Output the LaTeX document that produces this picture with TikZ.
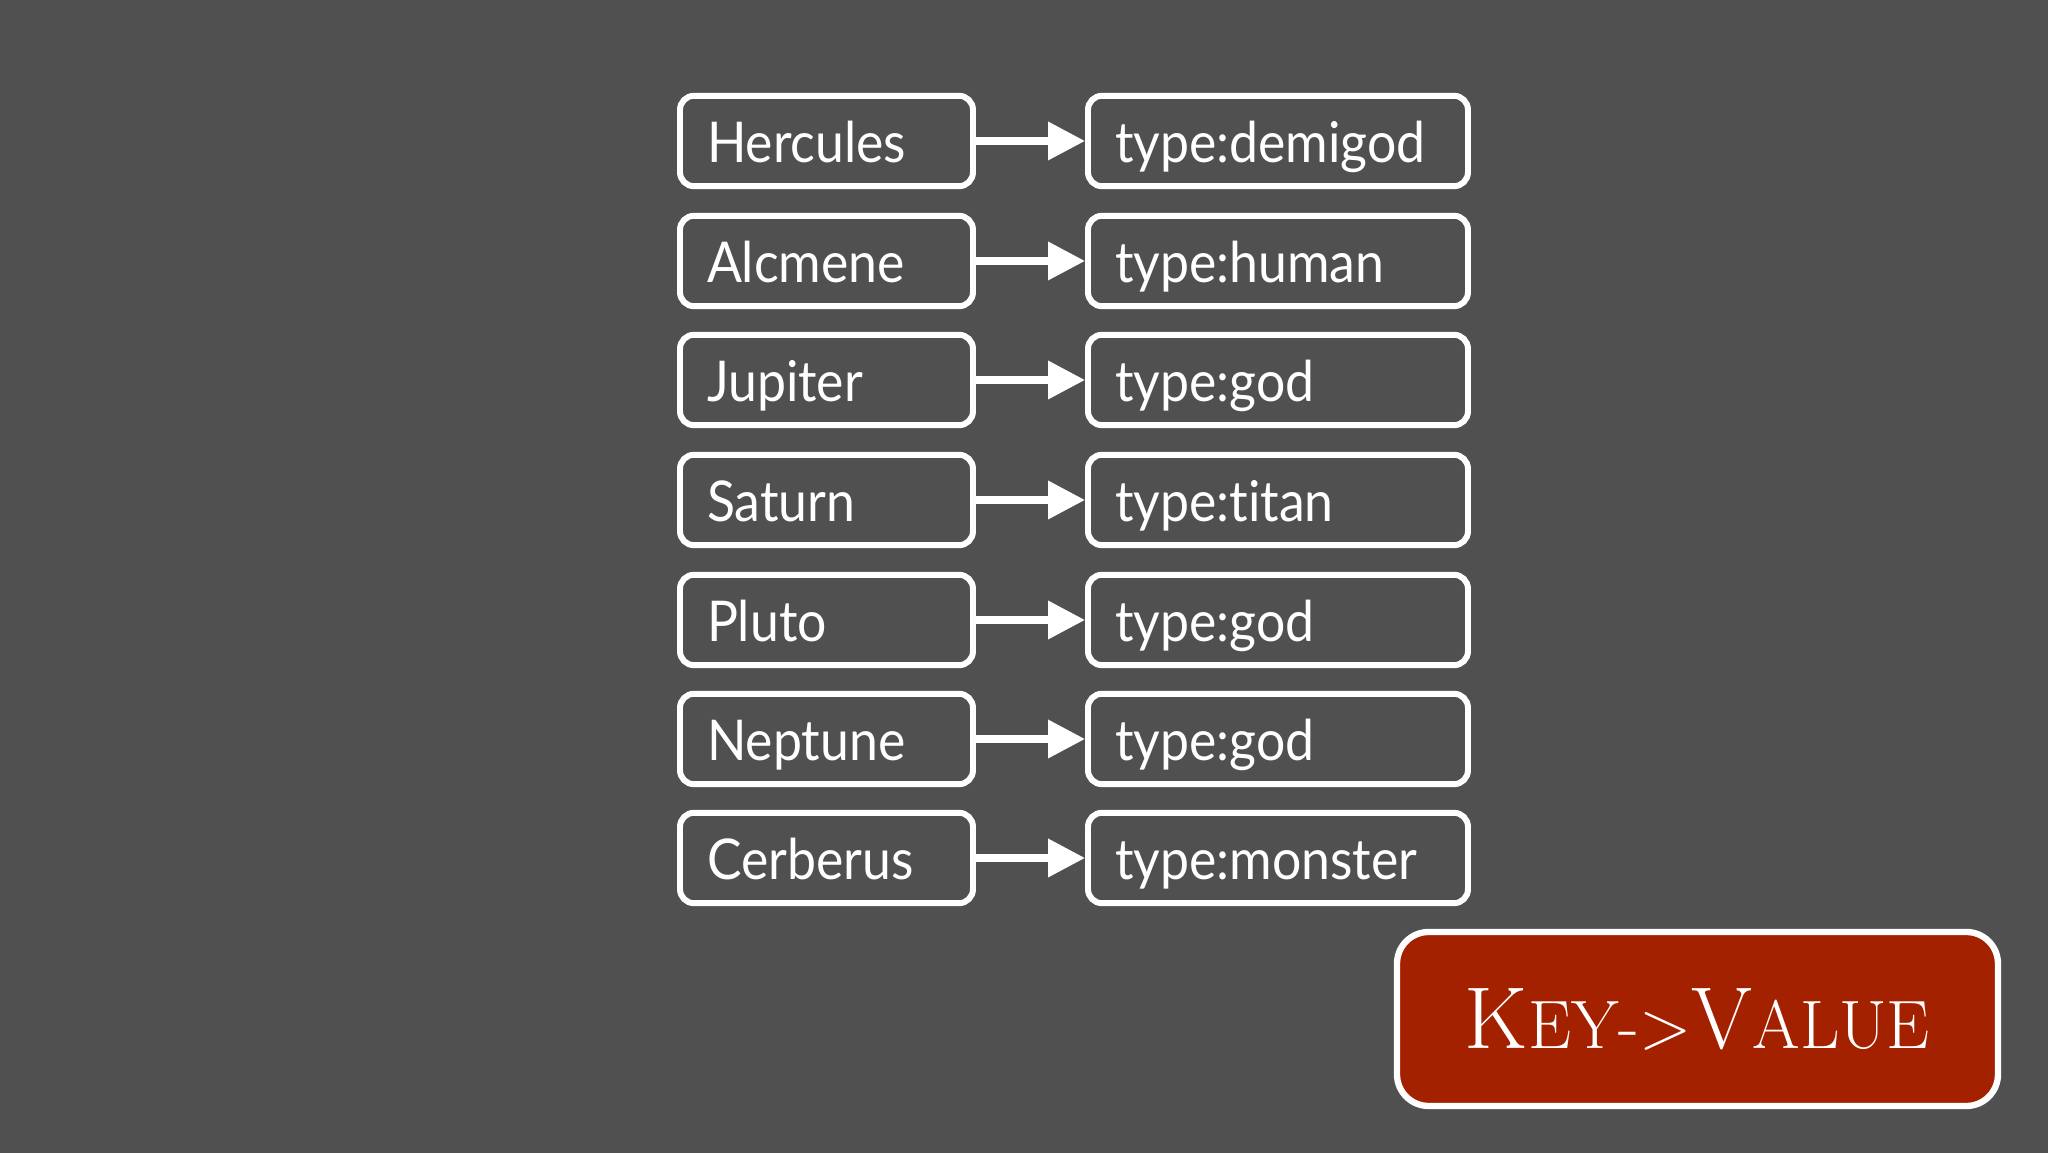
\documentclass[tikz,border=0pt]{standalone}
\usepackage{fontspec}
\setmainfont{Lato}
\newfontfamily\boxfont{Lato}[FakeStretch=0.92, Ligatures=NoCommon]
\newfontfamily\titlefont{Latin Modern Roman}
\usetikzlibrary{arrows.meta}
\definecolor{slate}{RGB}{80,80,80}
\definecolor{brick}{RGB}{164,33,0}

\tikzset{
  keybox/.style={draw=white, line width=1.7pt, rounded corners=4pt, fill=slate,
    text=white, minimum height=0.9cm, inner xsep=0.27cm, text width=2.39cm,
    text height=0.55cm, text depth=0.12cm,
    align=left, font=\boxfont\fontsize{16}{18}\selectfont},
  valbox/.style={keybox, text width=3.26cm},
  link/.style={draw=white, line width=2pt, -{Triangle[length=0.37cm, width=0.37cm]}}
}
\newcommand\initcap[1]{{\fontsize{25}{28}\selectfont #1}}

\begin{document}
\begin{tikzpicture}[auto]
        \useasboundingbox[fill=slate] (0, 0) rectangle (20.48, -11.53);

        \node[keybox] (Herc) at (8.265, -1.41) {Hercules};
        \node[keybox] (Alcm) at (8.265, -2.61) {Alcmene};
        \node[keybox] (Jup) at (8.265, -3.80) {Jupiter};
        \node[keybox] (Sat) at (8.265, -5.00) {Saturn};
        \node[keybox] (Plu) at (8.265, -6.20) {Pluto};
        \node[keybox] (Nep) at (8.265, -7.39) {Neptune};
        \node[keybox] (Cerb) at (8.265, -8.58) {Cerberus};

        \node[valbox] (Herc') at (12.78, -1.41) {type:demigod};
        \node[valbox] (Alcm') at (12.78, -2.61) {type:human};
        \node[valbox] (Jup') at (12.78, -3.80) {type:god};
        \node[valbox] (Sat') at (12.78, -5.00) {type:titan};
        \node[valbox] (Plu') at (12.78, -6.20) {type:god};
        \node[valbox] (Nep') at (12.78, -7.39) {type:god};
        \node[valbox] (Cerb') at (12.78, -8.58) {type:monster};

        \draw[link] (Herc) to (Herc');
        \draw[link] (Alcm) to (Alcm');
        \draw[link] (Jup) to (Jup');
        \draw[link] (Sat) to (Sat');
        \draw[link] (Plu) to (Plu');
        \draw[link] (Nep) to (Nep');
        \draw[link] (Cerb) to (Cerb');

        % faked small caps
        \node[draw=white, line width=1.8pt, rounded corners=9pt, fill=brick, text=white,
          minimum width=6.01cm, minimum height=1.74cm,
          font=\titlefont\fontsize{19.5}{28}\selectfont] (KV) at (16.975, -10.19)
          {\initcap{K}EY->\initcap{V}ALUE};
      \end{tikzpicture}
\end{document}
